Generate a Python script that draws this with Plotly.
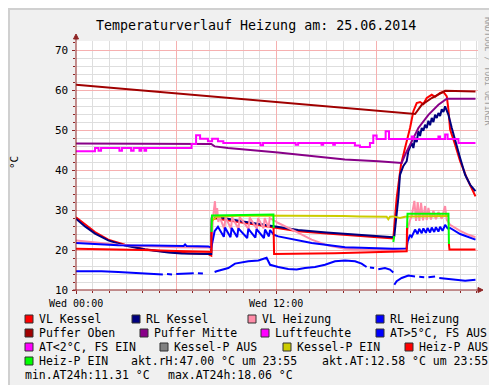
import plotly.graph_objects as go

# ---------------- data (time in hours since Wed 00:00, values in °C / %) ----------------
vl_kessel_t = [0, 0.6, 1.14, 1.93, 2.93, 4.13, 5.53, 6.72, 7.92, 8.1, 8.13, 8.4, 10.0, 11.9, 13.3, 15.0, 17.0, 19.0, 19.2, 19.46,
               19.7, 20.0, 20.2, 20.4, 20.6, 20.8, 21.0, 21.3, 21.5, 21.8, 22.0, 22.2, 22.3, 22.4, 22.7, 23.0, 23.4, 23.7, 23.92]
vl_kessel_v = [28.2, 26.3, 24.5, 22.6, 21.3, 20.2, 19.5, 19.2, 19.0, 18.6, 27.6, 27.9, 26.8, 25.6, 24.7, 24.1, 23.5, 22.9, 33.0, 41.3,
               45.5, 50.5, 54.7, 56.75, 57.0, 56.5, 58.0, 58.8, 58.3, 59.25, 59.5, 58.4, 55.1, 50.1, 46.3, 42.2, 38.0, 35.1, 33.4]

rl_kessel_t = [0, 0.54, 1.14, 1.93, 2.93, 4.13, 5.53, 6.32, 7.92, 8.1, 8.13, 8.5, 10.0, 11.9, 13.3, 15.0, 17.0, 19.0, 19.06, 19.3,
               19.4, 19.6, 19.8, 19.9, 20.1, 20.2, 20.3, 20.4, 20.5, 20.6, 20.7, 20.8, 20.9, 21.0, 21.1, 21.2, 21.3, 21.4, 21.5, 21.6,
               21.7, 21.8, 21.9, 22.0, 22.1, 22.2, 22.3, 22.5, 22.7, 23.0, 23.3, 23.6, 23.92]
rl_kessel_v = [27.8, 25.9, 24.1, 22.4, 21.1, 20.1, 19.4, 19.1, 19.0, 19.0, 28.0, 28.25, 27.1, 25.9, 25.0, 24.4, 23.8, 23.2, 23.5, 33.0,
               38.8, 41.0, 42.2, 44.7, 46.75, 45.5, 48.0, 47.0, 49.7, 48.5, 50.5, 49.8, 51.3, 50.5, 52.3, 51.2, 53.0, 52.0, 53.8, 53.0,
               54.25, 53.5, 55.2, 54.5, 55.9, 55.0, 53.8, 50.5, 47.2, 43.0, 38.8, 36.3, 34.7]

vl_heizung_t = [0, 1.0, 2.53, 4.0, 6.0, 7.92, 8.1, 8.2, 8.32, 8.38, 8.45, 8.52, 8.6, 8.88, 8.95, 9.28, 9.35, 9.73, 9.8, 10.33,
                10.4, 10.83, 10.9, 11.23, 11.3, 11.53, 11.6, 11.82, 12.11, 13.11, 14.11, 15.11, 16.11, 17.1, 19.0, 19.8, 19.85, 20.0, 20.1, 20.26,
                20.36, 20.46, 20.56, 20.66, 20.78, 20.9, 21.0, 21.1, 21.25, 21.4, 21.55, 21.7, 21.9, 22.1, 22.2, 22.4, 23.0, 23.5, 23.92]
vl_heizung_v = [22.4, 22.0, 21.3, 21.0, 20.7, 20.6, 20.5, 28.0, 32.2, 28.0, 30.5, 27.0, 28.3, 25.3, 28.3, 25.3, 28.2, 25.3, 28.2, 25.3,
                28.1, 25.3, 28.0, 25.4, 28.0, 25.5, 28.0, 27.5, 26.75, 24.7, 22.6, 21.1, 20.3, 20.1, 20.0, 20.3, 25.0, 27.5, 28.5, 32.3,
                27.3, 32.0, 27.3, 31.8, 27.4, 31.0, 27.5, 30.5, 27.6, 29.8, 27.7, 29.5, 27.8, 31.0, 27.5, 26.3, 24.8, 23.8, 23.2]

rl_heizung_t = [0, 2.53, 4.53, 6.45, 6.53, 6.62, 7.92, 8.1, 8.3, 8.5, 8.85, 8.92, 9.25, 9.32, 9.65, 9.72, 10.25, 10.32, 10.74, 10.81,
                11.25, 11.32, 11.55, 11.62, 11.85, 12.11, 14.11, 16.11, 19.0, 19.8, 19.85, 20.0, 20.1, 20.3, 20.45, 20.55, 20.7, 20.8, 20.95, 21.05,
                21.2, 21.3, 21.45, 21.55, 21.7, 21.8, 21.95, 22.1, 22.25, 22.4, 23.0, 23.5, 23.92]
rl_heizung_v = [21.75, 21.2, 21.1, 21.0, 21.4, 21.0, 20.9, 20.6, 24.7, 25.8, 23.3, 25.6, 23.2, 25.5, 23.2, 25.4, 23.0, 25.3, 23.1, 25.2,
                23.0, 25.1, 23.4, 25.0, 23.8, 23.4, 21.75, 20.7, 20.3, 20.4, 22.0, 23.8, 23.3, 25.1, 24.0, 25.3, 24.2, 25.4, 24.3, 25.5,
                24.4, 25.6, 24.5, 25.7, 24.6, 25.8, 24.8, 26.3, 25.4, 25.5, 24.0, 23.2, 22.6]

puffer_oben_t = [0, 6.0, 12.1, 18.1, 20.3, 20.7, 21.3, 22.1, 23.92]
puffer_oben_v = [61.3, 59.1, 56.9, 54.7, 54.0, 56.3, 58.0, 59.8, 59.6]

puffer_mitte_t = [0, 8.1, 8.3, 9.1, 12.1, 16.1, 18.1, 19.5, 19.7, 20.1, 20.5, 21.1, 21.7, 22.2, 23.92]
puffer_mitte_v = [46.6, 46.5, 45.9, 45.5, 44.4, 42.6, 42.2, 41.75, 43.8, 47.2, 50.5, 53.8, 56.3, 57.8, 57.8]

luftfeuchte_t = [0, 1.14, 1.35, 1.5, 2.6, 2.75, 3.3, 3.45, 3.8, 3.9, 4.1, 4.2, 6.92, 7.19, 7.43, 7.9, 8.15, 8.5, 8.82, 11.05,
                 11.2, 13.15, 13.3, 14.7, 14.8, 15.4, 15.5, 16.7, 17.0, 17.6, 17.8, 18.0, 18.54, 18.74, 20.1, 20.2, 21.7, 21.8, 22.1, 22.25,
                 22.9, 23.92]
luftfeuchte_v = [44.7, 45.5, 44.8, 45.5, 44.8, 45.5, 44.8, 45.5, 44.8, 45.5, 44.8, 45.5, 46.5, 48.7, 47.8, 47.2, 47.8, 47.2, 46.75, 46.2,
                 46.75, 46.3, 46.75, 46.3, 46.75, 46.3, 46.75, 46.1, 45.75, 46.75, 48.6, 47.75, 49.7, 47.75, 48.4, 47.75, 48.4, 47.75, 48.9, 47.75,
                 46.75, 46.75]

at_t = [0, 1.53, 2.53, 3.53, 4.53, 5.2, None, 5.45, 5.75, None, 6.0, 6.72, 7.05, None, 7.3, 7.6, None, 8.3, 8.42, 9.12,
        9.52, 10.32, 10.92, 11.41, 11.62, 12.11, 12.71, 13.21, 13.71, 14.31, 14.91, 15.51, 16.11, 16.71, 17.1, 17.4, None, 17.6, 17.85, None,
        18.1, 18.5, 18.8, 19.0, None, 19.06, 19.2, 19.5, 19.9, 20.3, None, 20.55, 20.85, None, 21.1, 21.5, None, 21.75, 22.1, 22.7,
        23.3, 23.92]
at_v = [14.7, 14.7, 14.5, 14.25, 14.1, 13.9, None, 14.0, 13.9, None, 14.0, 14.25, 14.2, None, 14.2, 14.1, None, 14.5, 14.7, 15.5,
        16.6, 17.2, 17.4, 18.06, 16.3, 15.75, 15.25, 15.1, 15.5, 15.75, 16.3, 17.2, 17.4, 17.2, 16.6, 15.75, None, 15.6, 15.5, None,
        15.2, 15.5, 15.1, 14.4, None, 11.31, 12.2, 13.0, 13.6, 13.4, None, 13.3, 13.2, None, 13.2, 13.4, None, 13.0, 12.8, 12.6,
        12.3, 12.58]

kessel_p_ein_t = [8.12, 8.4, 10.0, 12.0, 14.0, 16.0, 17.0, 18.0, 18.6, 18.7, 18.8, 19.0, 19.4, 19.7, 20.0, 22.32]
kessel_p_ein_v = [27.2, 28.3, 28.6, 28.6, 28.5, 28.5, 28.4, 28.45, 28.3, 27.7, 28.3, 28.4, 28.0, 28.3, 28.4, 28.5]

heiz_p_aus_t = [0, 4.0, 8.1, 8.12, None, 11.83, 11.86, 15.5, 19.0, 19.8, 19.82, None, 22.33, 22.36, 23.92]
heiz_p_aus_v = [20.3, 20.0, 19.5, 24.5, None, 25.5, 19.0, 19.2, 19.6, 19.7, 25.5, None, 21.5, 20.1, 20.1]

heiz_p_ein_t = [8.12, 8.14, 11.82, 11.83, None, 19.0, 19.05, None, 19.82, 19.85, 22.3, 22.33]
heiz_p_ein_v = [24.5, 28.6, 28.9, 25.5, None, 22.0, 23.5, None, 25.5, 29.05, 29.05, 21.5]

x_tick_vals = [0, 6, 12, 18]
x_tick_text = ["Wed 00:00", "", "Wed 12:00", ""]
y_tick_vals = [10, 20, 30, 40, 50, 60, 70]
y_tick_text = ["10", "20", "30", "40", "50", "60", "70"]

title_text = "Temperaturverlauf Heizung am: 25.06.2014"
legend_rows = [
    [("VL Kessel", "#FF0000"), ("RL Kessel", "#000080"), ("VL Heizung", "#FF8CA8"), ("RL Heizung", "#0000FF")],
    [("Puffer Oben", "#A00000"), ("Puffer Mitte", "#880088"), ("Luftfeuchte", "#FF00FF"), ("AT>5°C, FS AUS", "#0000FF")],
    [("AT<2°C, FS EIN", "#FF00FF"), ("Kessel-P AUS", "#808080"), ("Kessel-P EIN", "#CCCC00"), ("Heiz-P AUS", "#FF0000")],
    [("Heiz-P EIN", "#00FF00")],
]
info_row4 = ["akt.rH:47.00 °C um 23:55", "akt.AT:12.58 °C um 23:55"]
info_row5 = ["min.AT24h:11.31 °C", "max.AT24h:18.06 °C"]

# ---------------- layout geometry ----------------
W, H = 497, 385
L, R, T, B = 68, 27, 33, 103
PW, PH = W - L - R, H - T - B
FONT = "DejaVu Sans Mono"
AXC = "#8E2424"
X_RANGE = [0, 24.07]
Y_RANGE = [10, 72.25]


def px(x):
    return (x - L) / PW


def py(y):
    return (H - B - y) / PH


fig = go.Figure()


def add(t, v, color, shape="linear", width=2):
    fig.add_trace(go.Scatter(x=t, y=v, mode="lines", connectgaps=False, hoverinfo="skip", showlegend=False,
                             line=dict(color=color, width=width, shape=shape)))


add(vl_kessel_t, vl_kessel_v, "#FF0000")
add(rl_kessel_t, rl_kessel_v, "#000080")
add(vl_heizung_t, vl_heizung_v, "#FF8CA8")
add(rl_heizung_t, rl_heizung_v, "#0000FF")
add(puffer_oben_t, puffer_oben_v, "#A00000")
add(puffer_mitte_t, puffer_mitte_v, "#880088")
add(luftfeuchte_t, luftfeuchte_v, "#FF00FF", shape="hv")
add(at_t, at_v, "#0000FF")
add(kessel_p_ein_t, kessel_p_ein_v, "#CCCC00")
add(heiz_p_aus_t, heiz_p_aus_v, "#FF0000")
add(heiz_p_ein_t, heiz_p_ein_v, "#00FF00")

fig.update_layout(
    width=W, height=H, margin=dict(l=L, r=R, t=T, b=B, pad=0, autoexpand=False),
    paper_bgcolor="#F0F0F0", plot_bgcolor="#FFFFFF",
    font=dict(family=FONT, size=11, color="#000000"), showlegend=False,
)
fig.update_xaxes(range=X_RANGE, tickmode="array", tickvals=x_tick_vals, ticktext=x_tick_text, showticklabels=False,
                 showgrid=True, gridcolor="#F6B0B0", gridwidth=1, zeroline=False, showline=False,
                 ticks="outside", ticklen=3, tickcolor=AXC,
                 minor=dict(dtick=1, tick0=0, showgrid=True, gridcolor="#DEDEDE", ticks="outside", ticklen=2, tickcolor=AXC),
                 fixedrange=True)
fig.update_yaxes(range=Y_RANGE, tickmode="array", tickvals=y_tick_vals, showticklabels=False,
                 showgrid=True, gridcolor="#F6B0B0", gridwidth=1, zeroline=False, showline=False,
                 ticks="outside", ticklen=3, tickcolor=AXC,
                 minor=dict(dtick=2, tick0=10, showgrid=True, gridcolor="#DEDEDE", ticks="outside", ticklen=2, tickcolor=AXC),
                 fixedrange=True)

shapes = []
# axes with arrows
shapes.append(dict(type="line", xref="paper", yref="paper", x0=px(68), x1=px(68), y0=py(283), y1=py(30),
                   line=dict(color=AXC, width=1)))
shapes.append(dict(type="line", xref="paper", yref="paper", x0=px(65), x1=px(472), y0=py(282), y1=py(282),
                   line=dict(color=AXC, width=1)))
shapes.append(dict(type="path", xref="paper", yref="paper", fillcolor=AXC, line=dict(color=AXC, width=1),
                   path=f"M {px(65.5)} {py(31)} L {px(70.5)} {py(31)} L {px(68)} {py(26)} Z"))
shapes.append(dict(type="path", xref="paper", yref="paper", fillcolor=AXC, line=dict(color=AXC, width=1),
                   path=f"M {px(470)} {py(279.5)} L {px(470)} {py(284.5)} L {px(475)} {py(282)} Z"))
# frame
shapes.append(dict(type="rect", xref="paper", yref="paper", x0=px(494), x1=px(497), y0=py(385), y1=py(0),
                   fillcolor="#A4A4A4", line=dict(width=0)))
shapes.append(dict(type="rect", xref="paper", yref="paper", x0=px(0), x1=px(497), y0=py(385), y1=py(382),
                   fillcolor="#A4A4A4", line=dict(width=0)))
shapes.append(dict(type="rect", xref="paper", yref="paper", x0=px(0), x1=px(2), y0=py(382), y1=py(0),
                   fillcolor="#D0D0D0", line=dict(width=0)))
shapes.append(dict(type="rect", xref="paper", yref="paper", x0=px(0), x1=px(494), y0=py(2), y1=py(0),
                   fillcolor="#D0D0D0", line=dict(width=0)))

annotations = []
# tick labels (positioned through the axis scales)
for v, txt in zip(x_tick_vals, x_tick_text):
    if txt:
        annotations.append(dict(text=txt, xref="x", yref="paper", x=v, y=py(295), xanchor="center", yanchor="middle",
                                showarrow=False, borderpad=0, font=dict(family=FONT, size=10, color="#000000")))
for v, txt in zip(y_tick_vals, y_tick_text):
    annotations.append(dict(text=txt, xref="paper", yref="y", x=px(61), y=v, xanchor="right", yanchor="middle",
                            showarrow=False, borderpad=0, font=dict(family=FONT, size=11, color="#000000")))

annotations.append(dict(text=title_text, xref="paper", yref="paper", x=px(248), y=py(17), xanchor="center",
                        yanchor="middle", showarrow=False, font=dict(family=FONT, size=13.3, color="#000000")))
annotations.append(dict(text="°C", xref="paper", yref="paper", x=px(6), y=py(155), xanchor="center",
                        yanchor="middle", showarrow=False, textangle=-90, font=dict(family=FONT, size=11)))
annotations.append(dict(text="RRDTOOL / TOBI OETIKER", xref="paper", yref="paper", x=px(480), y=py(63),
                        xanchor="center", yanchor="middle", showarrow=False, textangle=90,
                        font=dict(family=FONT, size=8.2, color="#A0A0A0")))

row_y = [311, 325, 339, 353, 367]
square_x = [[17, 124, 240, 368], [17, 132, 253, 368], [17, 152, 275, 397], [17]]
LFS = 11.5
for r, items in enumerate(legend_rows):
    for c, (label, color) in enumerate(items):
        sx = square_x[r][c]
        yc = row_y[r]
        shapes.append(dict(type="rect", xref="paper", yref="paper", x0=px(sx), x1=px(sx + 8),
                           y0=py(yc + 4), y1=py(yc - 4), fillcolor=color, line=dict(color="#303030", width=1)))
        annotations.append(dict(text=label, xref="paper", yref="paper", x=px(sx + 13), y=py(yc),
                                xanchor="left", yanchor="middle", showarrow=False, borderpad=0,
                                font=dict(family=FONT, size=LFS, color="#000000")))
for txt, tx in zip(info_row4, [122, 313]):
    annotations.append(dict(text=txt, xref="paper", yref="paper", x=px(tx), y=py(row_y[3]),
                            xanchor="left", yanchor="middle", showarrow=False, borderpad=0,
                            font=dict(family=FONT, size=LFS, color="#000000")))
for txt, tx in zip(info_row5, [16, 159]):
    annotations.append(dict(text=txt, xref="paper", yref="paper", x=px(tx), y=py(row_y[4]),
                            xanchor="left", yanchor="middle", showarrow=False, borderpad=0,
                            font=dict(family=FONT, size=LFS, color="#000000")))

fig.update_layout(shapes=shapes, annotations=annotations)
fig.write_html("out.html")
